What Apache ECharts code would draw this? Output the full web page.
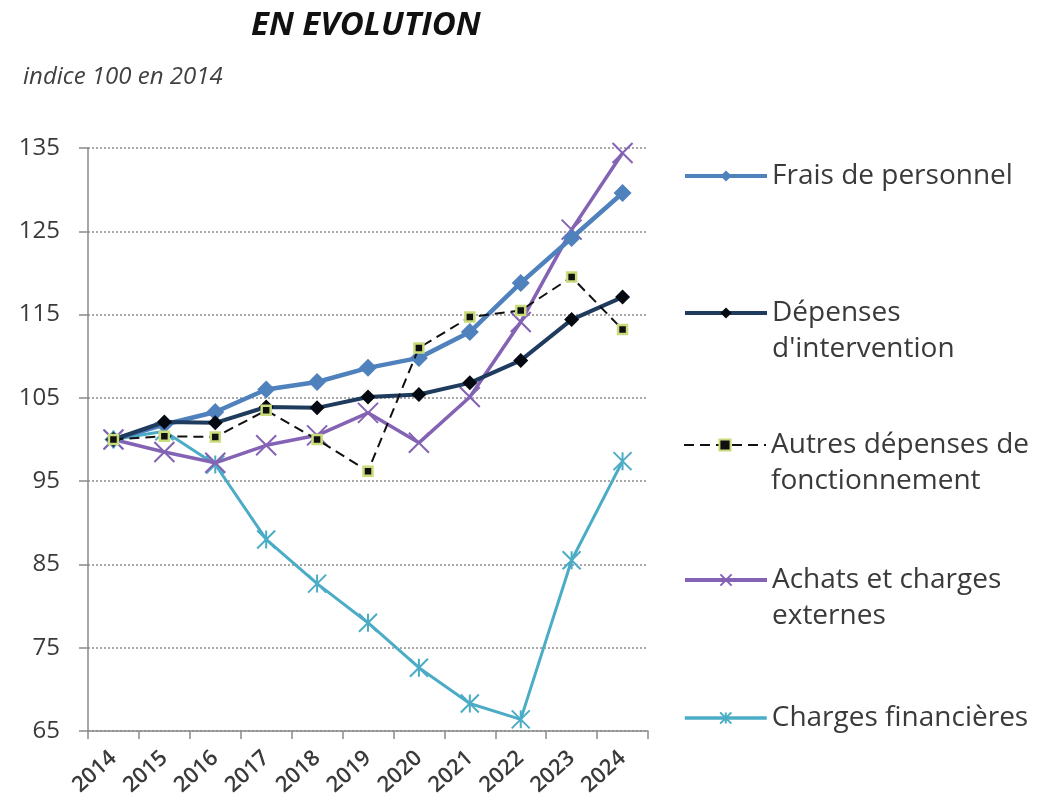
<!DOCTYPE html>
<html>
<head>
<meta charset="utf-8">
<script src="https://cdn.jsdelivr.net/npm/echarts@6/dist/echarts.min.js"></script>
<style>
  html, body { margin: 0; padding: 0; background: #fff; }
  #container { width: 1055px; height: 811px; }
</style>
</head>
<body>
<div id="container"></div>
<script>
var dom = document.getElementById("container");
var myChart = echarts.init(dom);
var option;

// years on the x axis
var years = ["2014", "2015", "2016", "2017", "2018", "2019", "2020", "2021", "2022", "2023", "2024"];

// indices, base 100 in 2014
var fraisPersonnel = [100, 101.8, 103.3, 106, 106.9, 108.6, 109.8, 112.9, 118.8, 124.2, 129.6];
var depensesIntervention = [100, 102.1, 102, 103.9, 103.8, 105.1, 105.4, 106.8, 109.5, 114.4, 117.1];
var autresFonctionnement = [100, 100.4, 100.3, 103.5, 100, 96.2, 111, 114.7, 115.5, 119.5, 113.2];
var achatsCharges = [100, 98.5, 97.2, 99.3, 100.5, 103.2, 99.6, 105.1, 114.1, 125.2, 134.4];
var chargesFinancieres = [100, 101, 97, 88, 82.7, 78, 72.6, 68.3, 66.4, 85.5, 97.4];

var seriesNames = [
  "Frais de personnel",
  "Dépenses d'intervention",
  "Autres dépenses de fonctionnement",
  "Achats et charges externes",
  "Charges financières"
];

// how the legend wraps the names (blank first line keeps the icon on line one)
var legendText = {
  "Frais de personnel": "Frais de personnel",
  "Dépenses d'intervention": "\nDépenses\nd'intervention",
  "Autres dépenses de fonctionnement": "\nAutres dépenses de\nfonctionnement",
  "Achats et charges externes": "\nAchats et charges\nexternes",
  "Charges financières": "Charges financières"
};

var FONT = "'Open Sans', sans-serif";
var xSymbol = "path://M0,0 L10,10 M10,0 L0,10";
var starSymbol = "path://M0,0 L10,10 M10,0 L0,10 M5,0 L5,10";

function makeLegend(name, top, lineW) {
  return {
    data: [name],
    left: 683,
    top: top,
    padding: 0,
    itemWidth: 82,
    itemHeight: 14,
    itemGap: 0,
    lineStyle: { width: lineW },
    formatter: function (n) { return legendText[n]; },
    textStyle: {
      fontFamily: FONT,
      fontSize: 28,
      lineHeight: 36,
      color: "#3a3a3a"
    }
  };
}

option = {
  animation: false,
  backgroundColor: "#ffffff",
  title: [
    {
      text: "EN EVOLUTION",
      left: 246,
      top: 4,
      textStyle: {
        fontFamily: FONT,
        fontSize: 33,
        fontWeight: "bold",
        fontStyle: "italic",
        color: "#111"
      }
    },
    {
      text: "indice 100 en 2014",
      left: 18,
      top: 60,
      textStyle: {
        fontFamily: FONT,
        fontSize: 24,
        fontWeight: "normal",
        fontStyle: "italic",
        color: "#404040"
      }
    }
  ],
  legend: [
    makeLegend(seriesNames[0], 158, 4),
    makeLegend(seriesNames[1], 259, 4),
    makeLegend(seriesNames[2], 391, 2),
    makeLegend(seriesNames[3], 526, 4),
    makeLegend(seriesNames[4], 700, 3.5)
  ],
  grid: {
    left: 88,
    right: 407,
    top: 148,
    bottom: 80,
    containLabel: false
  },
  xAxis: {
    type: "category",
    data: years,
    boundaryGap: true,
    axisLine: { lineStyle: { color: "#8a8a8a", width: 1.5 } },
    axisTick: { show: true, length: 8, lineStyle: { color: "#8a8a8a", width: 1.5 } },
    axisLabel: {
      rotate: 42,
      margin: 24,
      interval: 0,
      fontFamily: FONT,
      fontSize: 22,
      fontWeight: 600,
      color: "#3a3a3a"
    }
  },
  yAxis: {
    type: "value",
    min: 65,
    max: 135,
    interval: 10,
    axisLine: { show: true, lineStyle: { color: "#8a8a8a", width: 1.5 } },
    axisTick: { show: true, length: 9, lineStyle: { color: "#8a8a8a", width: 1.5 } },
    axisLabel: {
      margin: 28,
      fontFamily: FONT,
      fontSize: 24,
      color: "#3a3a3a"
    },
    splitLine: {
      show: true,
      lineStyle: { color: "#8c8c8c", type: [2, 2], width: 1.5 }
    }
  },
  series: [
    {
      name: seriesNames[0],
      type: "line",
      data: fraisPersonnel,
      symbol: "diamond",
      symbolSize: 18,
      lineStyle: { color: "#4f81bd", width: 4.5 },
      itemStyle: { color: "#4f81bd" },
      z: 3
    },
    {
      name: seriesNames[1],
      type: "line",
      data: depensesIntervention,
      symbol: "diamond",
      symbolSize: 15,
      lineStyle: { color: "#1f3b5e", width: 4 },
      itemStyle: { color: "#050a12" },
      z: 4
    },
    {
      name: seriesNames[2],
      type: "line",
      data: autresFonctionnement,
      symbol: "rect",
      symbolSize: 9,
      lineStyle: { color: "#111111", width: 2, type: [10, 6] },
      itemStyle: { color: "#101010", borderColor: "#c9dc7c", borderWidth: 2.5 },
      z: 5
    },
    {
      name: seriesNames[3],
      type: "line",
      data: achatsCharges,
      symbol: xSymbol,
      symbolSize: 20,
      lineStyle: { color: "#8462b4", width: 3.5 },
      itemStyle: { color: "#8462b4", borderColor: "#8462b4", borderWidth: 2 },
      z: 2
    },
    {
      name: seriesNames[4],
      type: "line",
      data: chargesFinancieres,
      symbol: starSymbol,
      symbolSize: 18,
      lineStyle: { color: "#4bacc6", width: 3 },
      itemStyle: { color: "#4bacc6", borderColor: "#4bacc6", borderWidth: 2 },
      z: 1
    }
  ]
};

if (option && typeof option === "object") {
  myChart.setOption(option, true);
}
</script>
</body>
</html>
